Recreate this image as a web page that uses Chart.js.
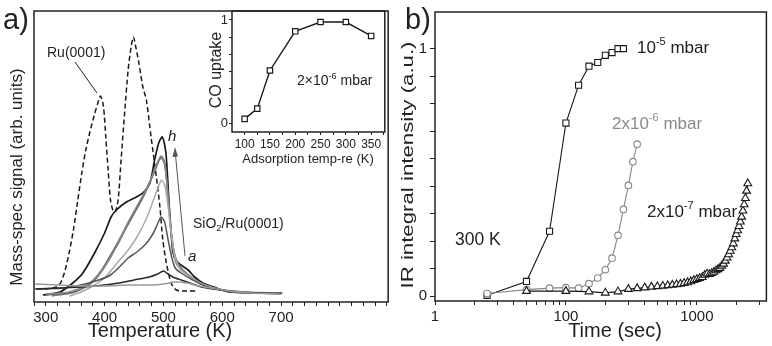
<!DOCTYPE html>
<html>
<head>
<meta charset="utf-8">
<script src="https://cdn.jsdelivr.net/npm/chart.js@4.4.1/dist/chart.umd.min.js"></script>
<style>
  html, body { margin: 0; padding: 0; background: #fff; }
  #wrap { position: relative; width: 772px; height: 346px; overflow: hidden; background: #fff; }
  canvas { position: absolute; }
</style>
</head>
<body>
<div id="wrap">
  <canvas id="tpd" width="390" height="346" style="left:0px;top:0px"></canvas>
  <canvas id="uptake" width="190" height="170" style="left:200px;top:0px"></canvas>
  <canvas id="ir" width="382" height="346" style="left:390px;top:0px"></canvas>
</div>
<script>
// ---- panel a: TPD spectra (temperature K, signal arb. units) ----
const tDash = [284,300,318,326,333,340,347,354,361,368,375,382,388,393,398,402,406,410,414,418,423,428,434,440,445,449,453,458,465,471,479,488,494,499,505,513,522,540,556];
const sDash = [13,13,15,20,32,50,72,100,128,152,170,186,198,206,196,165,132,102,92,90,102,142,189,232,255,265,255,240,215,202,165,125,95,62,39,19,12,11,11];
const tA = [282,320,360,400,440,480,500,520,540,560,580,610,650,700];
const sA = [18,17,16,16,17,17,18,20,19,16,14,11,9,8];
const tB = [282,320,360,400,425,450,476,490,500,508,516,530,545,565,585,620,660,700];
const sB = [13,14,15,17,19,22,25,28,31,28,25,22,19,15,13,10,9,8];
const tC = [290,330,360,390,410,425,440,455,470,482,490,496,502,508,514,520,530,550,575,610,660,700];
const sC = [13,14,17,22,27,35,44,50,58,68,78,85,80,62,45,34,29,22,15,11,9,9];
const tD = [340,360,380,400,420,440,455,470,480,490,497,503,508,513,520,528,545,570,600,650,700];
const sD = [6,10,16,24,38,52,65,82,97,113,122,115,95,70,45,33,25,17,12,9,9];
const tE = [300,340,370,390,410,425,440,455,470,480,490,496,502,507,512,517,522,530,545,565,590,620,660,700];
const sE = [8,10,17,28,45,62,80,96,112,125,140,145,138,110,75,50,38,33,26,18,13,10,9,9];
const tF = [300,345,375,395,415,430,445,460,472,482,490,496,502,507,512,518,525,535,550,570,600,650,700];
const sF = [7,10,18,32,52,68,84,100,114,127,139,146,140,112,78,50,38,31,24,17,12,9,9];
const tG = [310,350,380,400,420,435,450,465,476,486,493,497,503,508,513,520,528,540,560,590,640,700];
const sG = [6,10,20,35,55,72,88,104,118,132,142,144,135,105,70,45,35,28,20,13,10,9];
const tH = [295,324,346,363,383,400,411,420,437,454,465,477,485,492,498,504,507,510,513,516,522,530,542,553,567,590,612,646,702];
const sH = [7,10,19,29,49,69,85,92,100,105,109,119,142,159,165,150,125,95,70,50,41,37,32,25,19,14,10,9,9];
const tempLabels = [300,400,500,600,700];

// inset: CO uptake vs adsorption temperature
const adsTemp = [100,125,150,200,250,300,350];
const coUptake = [0.04,0.14,0.51,0.89,0.98,0.98,0.845];
const adsLabels = [100,150,200,250,300,350];

// ---- panel b: IR integral intensity vs time ----
const tSq = [25,50,75,100,125,150,175,200,225,250,275];
const irSq = [0.003,0.059,0.262,0.699,0.852,0.929,0.944,0.973,0.984,1.0,1.0];
const tCi = [25,50,75,100,125,150,175,200,225,250,275,300,325,350];
const irCi = [0.01,0.026,0.032,0.034,0.032,0.05,0.073,0.106,0.153,0.245,0.35,0.447,0.543,0.614];
const tTri = [50,100,150,200,250,300,350,400,450,500,550,600,650,700,750,800,850,900,950,1000,1050,1100,1150,1200,1250,1300,1350,1400,1450,1500,1550,1600,1650,1700,1750,1800,1850,1900,1950,2000,2050,2100,2150,2200,2250,2300,2350,2400,2450];
const irTri = [0.02,0.02,0.018,0.013,0.018,0.028,0.031,0.034,0.037,0.039,0.041,0.043,0.045,0.047,0.049,0.052,0.055,0.059,0.064,0.068,0.072,0.076,0.085,0.09,0.088,0.092,0.097,0.103,0.108,0.113,0.122,0.13,0.142,0.155,0.168,0.182,0.196,0.212,0.232,0.25,0.265,0.282,0.3,0.32,0.345,0.37,0.395,0.425,0.455];
const timeTickVals = [10,100,1000];
const timeTickText = ['1','100','1000'];

const FONT = '"Liberation Sans", Arial, sans-serif';
Chart.defaults.font.family = FONT;
Chart.defaults.color = '#222';

const pts = (xs, ys) => xs.map((x, i) => ({x: x, y: ys[i]}));

function txt(ctx, str, x, y, size, opt) {
    opt = opt || {};
    ctx.save();
    ctx.font = (opt.italic ? 'italic ' : '') + size + 'px ' + FONT;
    ctx.fillStyle = opt.color || '#222';
    ctx.textBaseline = 'middle';
    ctx.textAlign = opt.align || 'left';
    ctx.translate(x, y);
    if (opt.rotate) ctx.rotate(-Math.PI / 2);
    if (opt.len) {
        let w = ctx.measureText(str).width;
        ctx.scale(opt.len / w, 1);
    }
    ctx.fillText(str, 0, 0);
    ctx.restore();
}

// text with super/subscript pieces, left aligned, y = middle
function rich(ctx, parts, x, y, size, color) {
    ctx.save();
    ctx.fillStyle = color || '#222';
    ctx.textBaseline = 'alphabetic';
    let cx = x;
    let base = y + size * 0.36;
    for (let p of parts) {
        let fs = p[1] ? size * 0.65 : size;
        ctx.font = fs + 'px ' + FONT;
        let dy = p[1] == 'sup' ? -size * 0.45 : (p[1] == 'sub' ? size * 0.22 : 0);
        ctx.fillText(p[0], cx, base + dy);
        cx += ctx.measureText(p[0]).width;
    }
    ctx.restore();
}

function frame(chart) {
    const {ctx, chartArea: a} = chart;
    ctx.save();
    ctx.strokeStyle = '#222';
    ctx.lineWidth = 1.5;
    ctx.strokeRect(a.left, a.top, a.right - a.left, a.bottom - a.top);
    ctx.restore();
}

function steps(from, to, step) {
    const out = [];
    for (let v = from; v <= to + 1e-9; v += step) out.push({value: v});
    return out;
}

// ---------------- panel a ----------------
const curve = (xs, ys, color, w) => ({
    data: pts(xs, ys), borderColor: color, borderWidth: w || 1.5,
    pointRadius: 0, tension: 0.25, fill: false
});

new Chart(document.getElementById('tpd'), {
    type: 'line',
    data: {
        datasets: [
            curve(tA, sA, '#9a9a9a'),
            curve(tB, sB, '#2a2a2a'),
            curve(tC, sC, '#555'),
            curve(tD, sD, '#aaa'),
            curve(tE, sE, '#888'),
            curve(tF, sF, '#666'),
            curve(tG, sG, '#777'),
            curve(tH, sH, '#1a1a1a', 1.7),
            Object.assign(curve(tDash, sDash, '#1a1a1a', 1.5), {borderDash: [5, 3]})
        ]
    },
    options: {
        responsive: false,
        animation: false,
        layout: {padding: {left: 0, top: 11, right: 1, bottom: 0}},
        plugins: {legend: {display: false}, tooltip: {enabled: false}},
        scales: {
            x: {
                type: 'linear', min: 280, max: 882,
                afterBuildTicks: s => { s.ticks = steps(280, 880, 20); },
                afterFit: s => { s.height = 44; },
                grid: {drawOnChartArea: false, tickLength: 4, color: '#222'},
                border: {display: false},
                ticks: {
                    autoSkip: false, maxRotation: 0, font: {size: 15}, color: '#222',
                    callback: v => tempLabels.includes(v) ? String(v) : ''
                }
            },
            y: {
                min: 0, max: 291,
                afterFit: s => { s.width = 34; },
                grid: {display: false}, border: {display: false},
                ticks: {display: false}
            }
        }
    },
    plugins: [{
        id: 'decoA',
        afterDraw(chart) {
            const ctx = chart.ctx;
            frame(chart);
            txt(ctx, 'a)', 3, 21, 29);
            txt(ctx, 'Mass-spec signal (arb. units)', 17, 177, 17, {rotate: true, align: 'center'});
            txt(ctx, 'Temperature (K)', 160, 331, 20, {align: 'center'});
            txt(ctx, 'Ru(0001)', 47, 53, 14);
            txt(ctx, 'h', 168, 137, 15, {italic: true});
            txt(ctx, 'a', 188, 257, 15, {italic: true});
            rich(ctx, [['SiO', ''], ['2', 'sub'], ['/Ru(0001)', '']], 193, 223, 14);
            ctx.save();
            ctx.strokeStyle = '#222';
            ctx.lineWidth = 1;
            ctx.beginPath();
            ctx.moveTo(75, 62);
            ctx.lineTo(97, 93);
            ctx.stroke();
            // arrow a -> h
            ctx.strokeStyle = '#555';
            ctx.fillStyle = '#555';
            ctx.beginPath();
            ctx.moveTo(185, 256);
            ctx.lineTo(175.5, 155);
            ctx.stroke();
            ctx.beginPath();
            ctx.moveTo(175, 147);
            ctx.lineTo(172.5, 157);
            ctx.lineTo(178, 156.5);
            ctx.closePath();
            ctx.fill();
            ctx.restore();
        }
    }]
});

// ---------------- inset ----------------
new Chart(document.getElementById('uptake'), {
    type: 'line',
    data: {
        datasets: [{
            data: pts(adsTemp, coUptake), borderColor: '#1a1a1a', borderWidth: 1.4,
            pointStyle: 'rect', pointRadius: 3.8, pointBorderWidth: 1.2,
            pointBackgroundColor: '#fff', pointBorderColor: '#1a1a1a', tension: 0
        }]
    },
    options: {
        responsive: false,
        animation: false,
        layout: {padding: {left: 0, top: 11, right: 1, bottom: 0}},
        plugins: {legend: {display: false}, tooltip: {enabled: false}},
        scales: {
            x: {
                type: 'linear', min: 75, max: 377,
                afterBuildTicks: s => { s.ticks = steps(100, 375, 25); },
                afterFit: s => { s.height = 38; },
                grid: {drawOnChartArea: false, tickLength: 3, color: '#222'},
                border: {display: false},
                ticks: {
                    autoSkip: false, maxRotation: 0, padding: 2, font: {size: 12}, color: '#222',
                    callback: v => adsLabels.includes(v) ? String(v) : ''
                }
            },
            y: {
                min: -0.087, max: 1.087,
                afterBuildTicks: s => { s.ticks = [0,1,2,3,4,5,6].map(i => ({value: i / 6})); },
                afterFit: s => { s.width = 32; },
                grid: {drawOnChartArea: false, tickLength: 3, color: '#222'},
                border: {display: false},
                ticks: {
                    padding: 1, font: {size: 13}, color: '#222',
                    callback: v => Math.abs(v) < 1e-6 ? '0' : (Math.abs(v - 1) < 1e-6 ? '1' : '')
                }
            }
        }
    },
    plugins: [{
        id: 'decoInset',
        afterDraw(chart) {
            const ctx = chart.ctx;
            frame(chart);
            txt(ctx, 'CO uptake', 17, 70, 16, {rotate: true, align: 'center'});
            txt(ctx, 'Adsorption temp-re (K)', 108, 159, 13, {align: 'center'});
            rich(ctx, [['2\u00d710', ''], ['-6', 'sup'], [' mbar', '']], 97, 80, 14);
        }
    }]
});

// ---------------- panel b ----------------
const marks = (xs, ys, color, style, r) => ({
    data: pts(xs, ys), borderColor: color, borderWidth: 1.1,
    pointStyle: style, pointRadius: r, pointBorderWidth: 1.1,
    pointBackgroundColor: '#fff', pointBorderColor: color, tension: 0
});

new Chart(document.getElementById('ir'), {
    type: 'line',
    data: {
        datasets: [
            marks(tTri, irTri, '#1a1a1a', 'triangle', 4.5),
            marks(tCi, irCi, '#888', 'circle', 3.3),
            marks(tSq, irSq, '#1a1a1a', 'rect', 4.3)
        ]
    },
    options: {
        responsive: false,
        animation: false,
        layout: {padding: {left: 0, top: 11, right: 2, bottom: 0}},
        plugins: {legend: {display: false}, tooltip: {enabled: false}},
        scales: {
            x: {
                type: 'logarithmic', min: 10, max: 3400,
                afterBuildTicks: s => {
                    const t = [];
                    for (let d of [10, 100, 1000]) for (let m = 1; m <= 9; m++) if (d * m <= 3400) t.push({value: d * m});
                    s.ticks = t;
                },
                afterFit: s => { s.height = 45; },
                grid: {drawOnChartArea: false, tickLength: 4, color: '#222'},
                border: {display: false},
                ticks: {
                    autoSkip: false, maxRotation: 0, font: {size: 15}, color: '#222',
                    callback: v => { const i = timeTickVals.indexOf(v); return i >= 0 ? timeTickText[i] : ''; }
                }
            },
            y: {
                min: -0.02, max: 1.148,
                afterBuildTicks: s => { s.ticks = [0,1,2,3,4,5,6,7,8,9].map(i => ({value: i / 9})); },
                afterFit: s => { s.width = 45; },
                grid: {drawOnChartArea: false, tickLength: 5, color: '#222'},
                border: {display: false},
                ticks: {
                    padding: 3, font: {size: 15}, color: '#222',
                    callback: v => Math.abs(v) < 1e-6 ? '0' : (Math.abs(v - 1) < 1e-6 ? '1' : '')
                }
            }
        }
    },
    plugins: [{
        id: 'decoB',
        afterDraw(chart) {
            const ctx = chart.ctx;
            frame(chart);
            txt(ctx, 'b)', 15, 21, 29);
            txt(ctx, 'IR integral intensity (a.u.)', 18, 165, 17, {rotate: true, align: 'center', len: 247});
            txt(ctx, 'Time (sec)', 225, 331, 20, {align: 'center'});
            rich(ctx, [['10', ''], ['-5', 'sup'], [' mbar', '']], 247, 47, 17);
            rich(ctx, [['2x10', ''], ['-6', 'sup'], [' mbar', '']], 222, 123, 17, '#8a8a8a');
            rich(ctx, [['2x10', ''], ['-7', 'sup'], [' mbar', '']], 257, 211, 17);
            txt(ctx, '300 K', 65, 240, 17.5);
        }
    }]
});
</script>
</body>
</html>
